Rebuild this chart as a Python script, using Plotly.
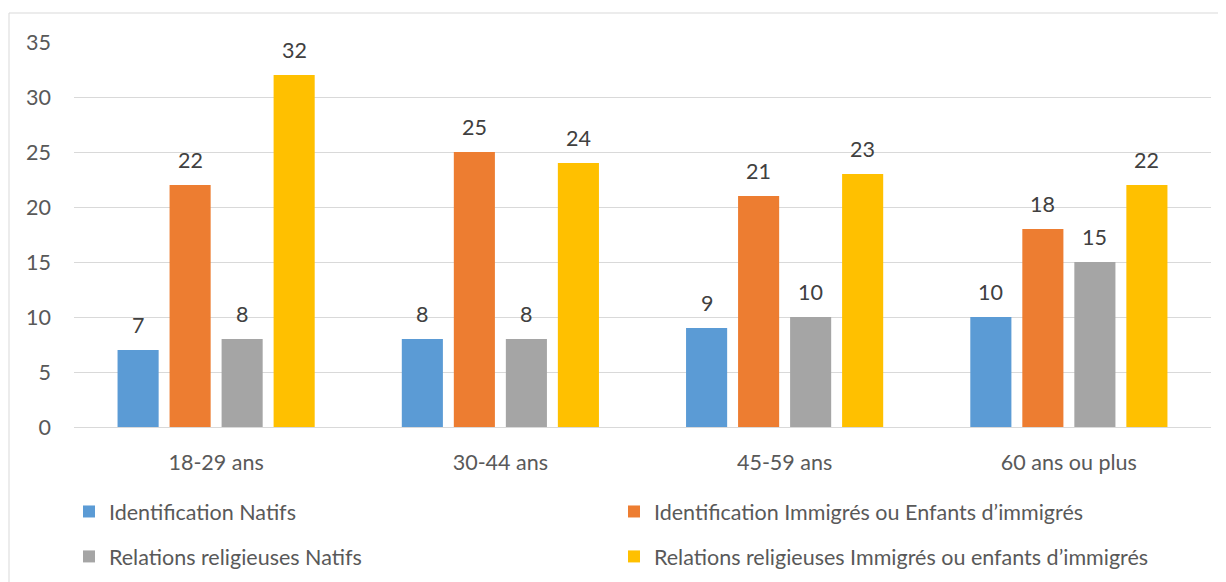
import plotly.graph_objects as go

categories = ["18-29 ans", "30-44 ans", "45-59 ans", "60 ans ou plus"]
series_names = [
    "Identification Natifs",
    "Identification Immigrés ou Enfants d’immigrés",
    "Relations religieuses Natifs",
    "Relations religieuses Immigrés ou enfants d’immigrés",
]
ident_natifs = [7, 8, 9, 10]
ident_immigres = [22, 25, 21, 18]
relig_natifs = [8, 8, 10, 15]
relig_immigres = [32, 24, 23, 22]
y_ticks = [0, 5, 10, 15, 20, 25, 30, 35]

values = [ident_natifs, ident_immigres, relig_natifs, relig_immigres]
colors = ["#5B9BD5", "#ED7D31", "#A5A5A5", "#FFC000"]
legends = ["legend", "legend2", "legend", "legend2"]

FONT = "Lato"
FS = 21.5

fig = go.Figure()
for i, (name, vals, col, lg) in enumerate(zip(series_names, values, colors, legends)):
    fig.add_trace(go.Bar(
        x=categories, y=vals, name=name, marker_color=col,
        marker_line_width=0, legend=lg, legendgroup=name,
    ))

# data labels
offsets = [-78, -26, 26, 78]
for vals, off in zip(values, offsets):
    for c, v in zip(categories, vals):
        fig.add_annotation(x=c, y=v, text=str(v), showarrow=False,
                           xshift=off, yshift=25, yanchor="middle",
                           font=dict(family=FONT, size=FS, color="#404040"))

# page body has an 8px margin
OFF = 8
W, H = 1226 - OFF, 582 - OFF
L, R, T, B = 74 - OFF, 15, 42 - OFF, 155
pw, ph = W - L - R, H - T - B

def px_x(p):
    return (p - OFF - L) / pw

def px_y(p):
    return (H - B - (p - OFF)) / ph

fig.add_shape(type="rect", xref="paper", yref="paper",
              x0=px_x(9), x1=px_x(1240), y0=px_y(600), y1=px_y(13),
              line=dict(color="#D9D9D9", width=1), fillcolor="rgba(0,0,0,0)")

fig.update_layout(
    width=W, height=H,
    margin=dict(l=L, r=R, t=T, b=B, autoexpand=False),
    paper_bgcolor="white", plot_bgcolor="white",
    barmode="group", bargap=0.268, bargroupgap=0.21,
    font=dict(family=FONT, size=FS, color="#595959"),
    xaxis=dict(showgrid=False, showline=True, linecolor="#D9D9D9", linewidth=1,
               ticks="", ticklabelstandoff=16, automargin=False,
               tickfont=dict(size=FS, color="#595959")),
    yaxis=dict(range=[0, 35], tickvals=y_ticks, showgrid=True, gridcolor="#D9D9D9",
               gridwidth=1, zeroline=False, showline=False, ticks="", automargin=False,
               ticklabelstandoff=22, tickfont=dict(size=FS, color="#595959")),
    legend=dict(orientation="v", x=px_x(69), xanchor="left", y=px_y(491), yanchor="top",
                tracegroupgap=14, font=dict(size=FS, color="#595959"), bgcolor="rgba(0,0,0,0)"),
    legend2=dict(orientation="v", x=px_x(614), xanchor="left", y=px_y(491), yanchor="top",
                 tracegroupgap=14, font=dict(size=FS, color="#595959"), bgcolor="rgba(0,0,0,0)"),
    showlegend=True,
)

fig.write_html("out.html")
